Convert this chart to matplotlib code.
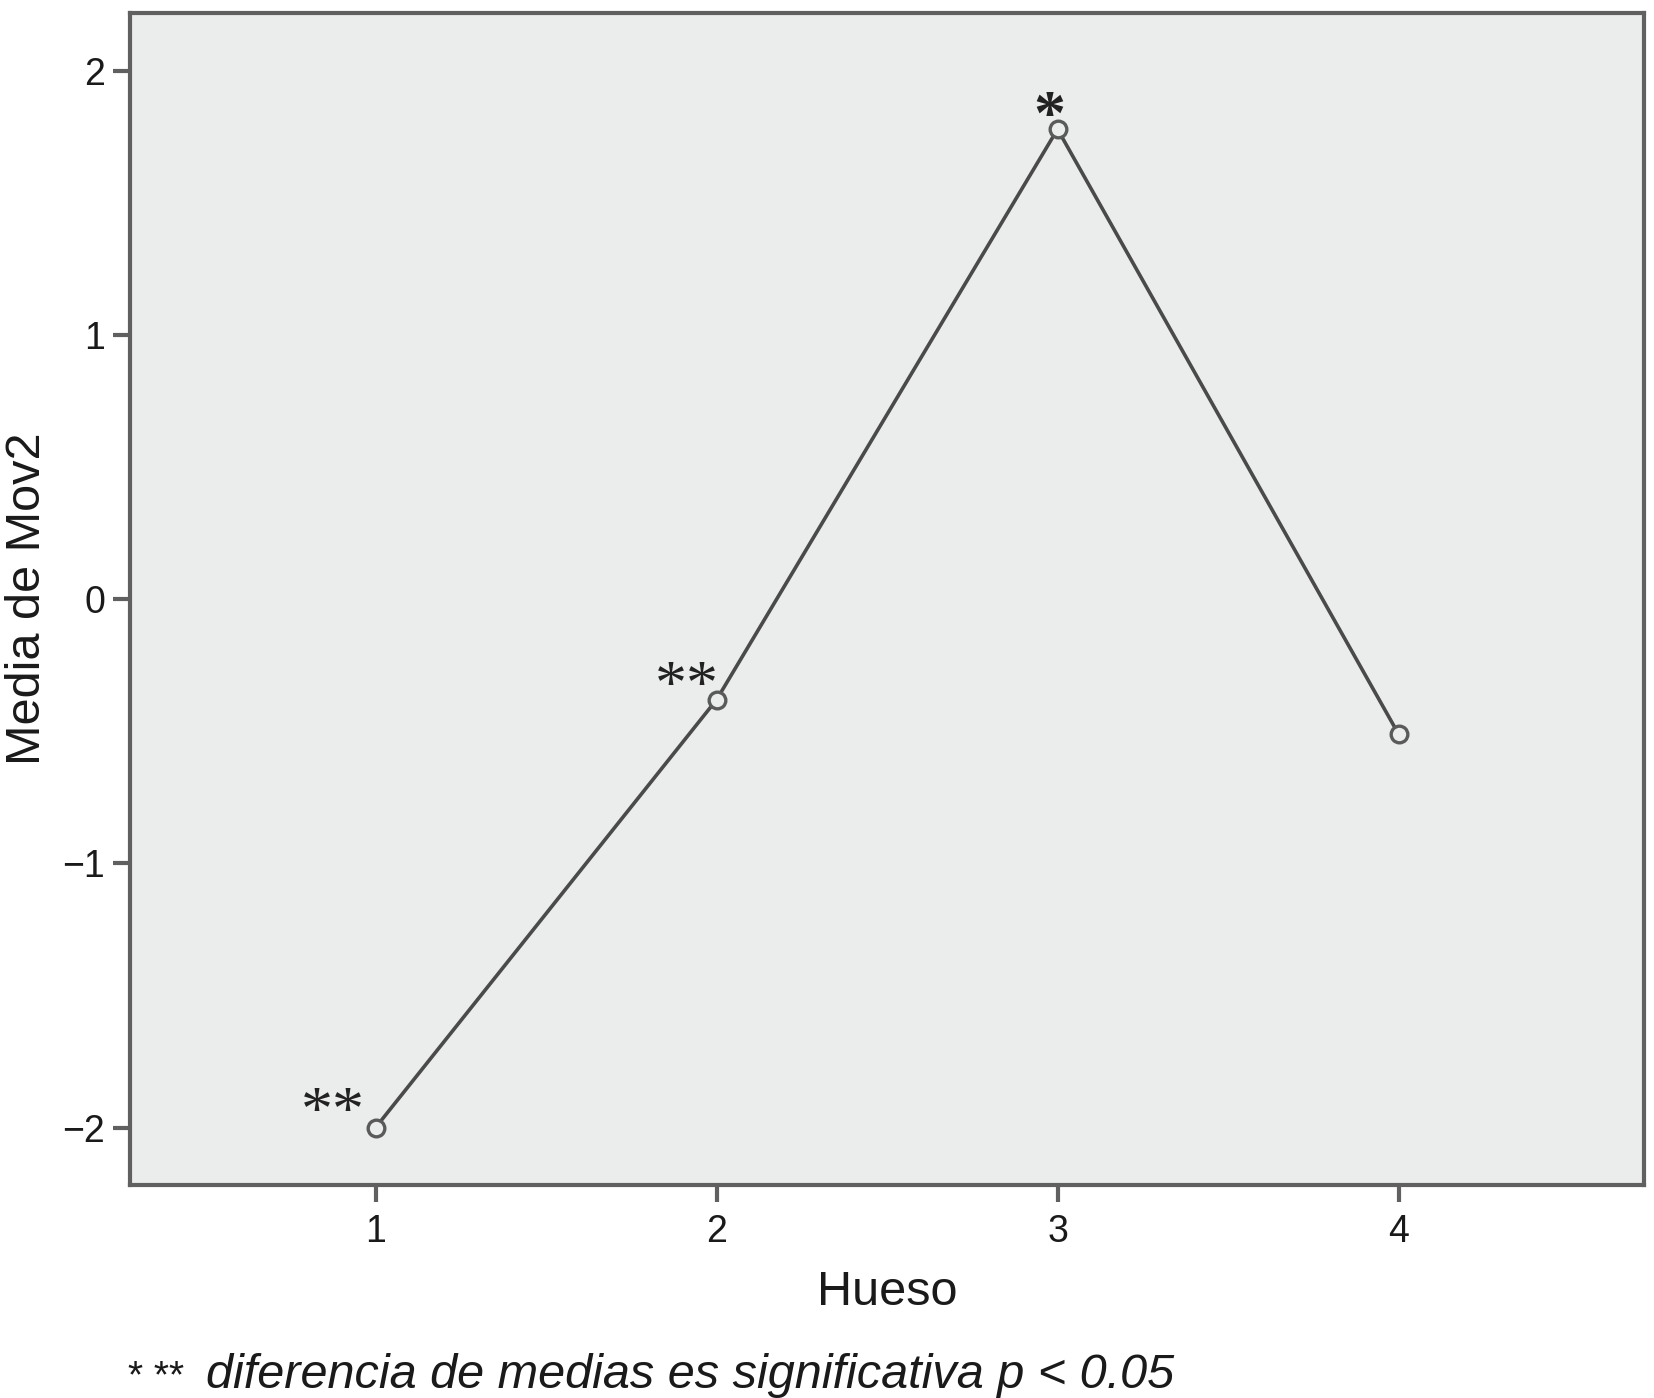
import matplotlib
matplotlib.use('Agg')
import matplotlib.pyplot as plt

# data
hueso = [1, 2, 3, 4]
media_mov2 = [-2.0, -0.38, 1.78, -0.51]
marcas = ['**', '**', '*', '']
y_ticks = [-2, -1, 0, 1, 2]
y_tick_labels = ['\u22122', '\u22121', '0', '1', '2']

plt.rcParams['font.family'] = ['Liberation Sans', 'DejaVu Sans']

fig = plt.figure(figsize=(16.54, 13.98), dpi=100)
ax = fig.add_axes([0.0786, 0.1524, 0.994 - 0.0786, 0.9907 - 0.1524])
ax.set_facecolor('#ebeded')

ax.plot(hueso, media_mov2, color='#4a4a4a', linewidth=2.6, marker='o',
        markersize=12, markerfacecolor='#ebeded', markeredgecolor='#5a5a5a',
        markeredgewidth=2.4)

# significance marks next to the points
offsets = [(-31, 9), (-21.5, 8), (-6, 7), (0, 0)]
for x, y, m, off in zip(hueso, media_mov2, marcas, offsets):
    if m:
        ax.annotate(m, (x, y), xytext=off, textcoords='offset points',
                    ha='center', va='center', fontsize=46,
                    family='Liberation Serif',
                    fontweight='bold' if m == '*' else 'normal',
                    color='#222222')

ax.set_xlim(0.28, 4.72)
ax.set_ylim(-2.217, 2.22)
ax.set_xticks(hueso)
ax.set_yticks(y_ticks)
ax.set_yticklabels(y_tick_labels)

for s in ax.spines.values():
    s.set_color('#606060')
    s.set_linewidth(3)
ax.tick_params(axis='both', colors='#606060', width=3, length=12,
               labelsize=27, labelcolor='#1a1a1a')
ax.tick_params(axis='y', pad=6)
ax.tick_params(axis='x', pad=9)

ax.set_xlabel('Hueso', fontsize=35, color='#1a1a1a', labelpad=14)
ax.set_ylabel('Media de Mov2', fontsize=35, color='#1a1a1a', labelpad=9)

fig.text(128 / 1654, 1 - 1388 / 1398, '* **', fontsize=28, color='#1a1a1a',
         va='baseline')
fig.text(206 / 1654, 1 - 1388 / 1398,
         'diferencia de medias es significativa p < 0.05', fontsize=35,
         style='italic', color='#1a1a1a', va='baseline')

fig.savefig('out.png', dpi=100)
